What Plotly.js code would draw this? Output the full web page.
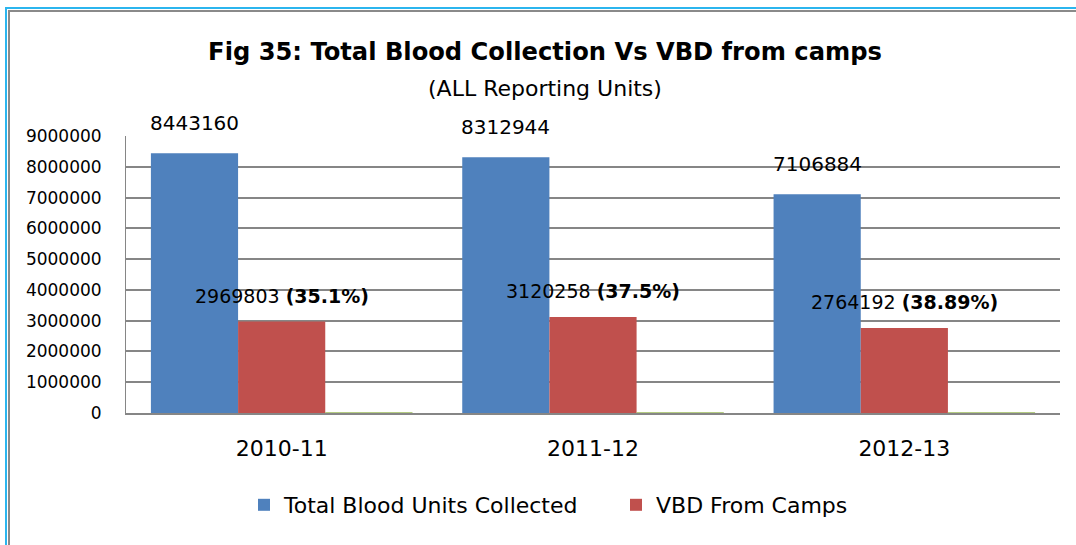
<!DOCTYPE html>
<html>
<head>
<meta charset="utf-8">
<script src="https://cdn.plot.ly/plotly-3.0.1.min.js"></script>
<style>
  html, body { margin: 0; padding: 0; background: #fff; }
  #wrap { position: relative; width: 1076px; height: 545px; overflow: hidden; }
  #chart { width: 1076px; height: 545px; }
  .b1 { position: absolute; background: #2bb5ee; }
  .b2 { position: absolute; background: #8a8a8a; }
</style>
</head>
<body>
<div id="wrap">
  <div id="chart"></div>
  <div class="b1" style="left:5px; top:7px; width:2px; height:538px;"></div>
  <div class="b1" style="left:5px; top:7px; width:1071px; height:2px;"></div>
  <div class="b2" style="left:8px; top:10px; width:2px; height:535px;"></div>
  <div class="b2" style="left:8px; top:10px; width:1068px; height:2px;"></div>
</div>
<script>
const categories = ["2010-11", "2011-12", "2012-13"];
const totalCollected = [8443160, 8312944, 7106884];
const vbdCamps = [2969803, 3120258, 2764192];
const vbdPercent = ["35.1", "37.5", "38.89"];
const percentSeries = [35.1, 37.5, 38.89];
const seriesNames = ["Total Blood Units Collected", "VBD From Camps", "% VBD"];
const yTicks = [0, 1000000, 2000000, 3000000, 4000000, 5000000, 6000000, 7000000, 8000000, 9000000];

const FONT = "'DejaVu Sans', sans-serif";
const BLUE = "#4f81bd", RED = "#c0504d", GREEN = "#9bbb59";

const traces = [
  { type: "bar", x: categories, y: totalCollected, name: seriesNames[0], marker: { color: BLUE }, hoverinfo: "x+y" },
  { type: "bar", x: categories, y: vbdCamps, name: seriesNames[1], marker: { color: RED }, hoverinfo: "x+y" },
  { type: "bar", x: categories, y: percentSeries, name: seriesNames[2], showlegend: false,
    marker: { color: GREEN, line: { color: GREEN, width: 1 } }, hoverinfo: "x+y" }
];

const bargap = 0.16;
const w = (1 - bargap) / 3;
const annotations = [];
categories.forEach((c, i) => {
  annotations.push({ x: i - w, y: totalCollected[i], xref: "x", yref: "y", text: String(totalCollected[i]),
    showarrow: false, yanchor: "bottom", yshift: 16, font: { family: FONT, size: 20, color: "#000" } });
  annotations.push({ x: i, y: vbdCamps[i], xref: "x", yref: "y",
    text: vbdCamps[i] + " <b>(" + vbdPercent[i] + "%)</b>",
    showarrow: false, yanchor: "bottom", yshift: 13, font: { family: FONT, size: 19, color: "#000" } });
});
annotations.push({ xref: "paper", yref: "paper", x: (545 - 126) / 934, y: 1, yshift: 48, yanchor: "middle",
  text: "(ALL Reporting Units)", showarrow: false, font: { family: FONT, size: 22, color: "#000" } });

const layout = {
  width: 1076, height: 545,
  margin: { l: 126, r: 16, t: 136, b: 132 },
  paper_bgcolor: "rgba(0,0,0,0)", plot_bgcolor: "#fff",
  font: { family: FONT, color: "#000" },
  title: { text: "<b>Fig 35: Total Blood Collection Vs VBD from camps</b>", x: 545 / 1076, xanchor: "center",
    y: 1 - 52/545, yanchor: "middle", yref: "container", font: { family: FONT, size: 24.2, color: "#000" } },
  barmode: "group", bargap: bargap, bargroupgap: 0,
  xaxis: { type: "category", tickfont: { family: FONT, size: 22, color: "#000" }, showline: true,
    linecolor: "#868686", linewidth: 2, ticks: "", showgrid: false, range: [-0.5, 2.5], ticklabelstandoff: 15 },
  yaxis: { range: [0, 9000000], tickvals: yTicks, ticktext: yTicks.map(String),
    tickfont: { family: FONT, size: 17, color: "#000" }, showgrid: true, gridcolor: "#868686", gridwidth: 2,
    showline: true, linecolor: "#868686", linewidth: 1, zeroline: false, ticks: "", ticklabelstandoff: 20,
    mirror: false },
  legend: { orientation: "h", x: (244 - 126) / 934, xanchor: "left", y: -92 / 277, yanchor: "middle",
    font: { family: FONT, size: 22, color: "#000" }, itemwidth: 30, traceorder: "normal",
    entrywidth: 327, entrywidthmode: "pixels" },
  annotations: annotations,
  showlegend: true
};
Plotly.newPlot("chart", traces, layout, { displayModeBar: false, staticPlot: true });
</script>
</body>
</html>
